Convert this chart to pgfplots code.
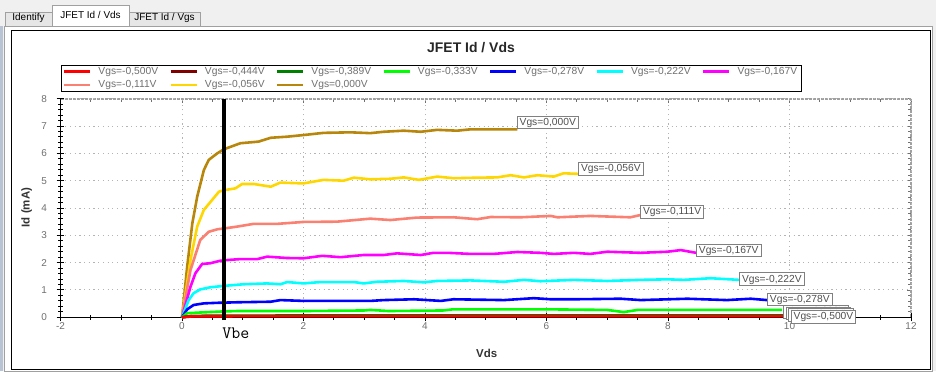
\documentclass[border=0pt]{standalone}
\usepackage{pgfplots}
\pgfplotsset{compat=1.18}
\usepackage{fontspec}
\setmainfont{Liberation Sans}
\definecolor{bgc}{HTML}{F0F0F0}
\definecolor{panelc}{HTML}{A0A0A0}
\definecolor{tabc}{HTML}{E6E6E6}
\definecolor{winc}{HTML}{B8C4D4}
\definecolor{tickc}{HTML}{707070}
\definecolor{gridc}{HTML}{B4B4B4}
\definecolor{labc}{HTML}{505050}
\definecolor{c500}{HTML}{FF0000}
\definecolor{c444}{HTML}{800000}
\definecolor{c389}{HTML}{008000}
\definecolor{c333}{HTML}{00FF00}
\definecolor{c278}{HTML}{0000FF}
\definecolor{c222}{HTML}{00FFFF}
\definecolor{c167}{HTML}{FF00FF}
\definecolor{c111}{HTML}{FA8072}
\definecolor{c056}{HTML}{FFD700}
\definecolor{c000}{HTML}{B8860B}
\begin{document}
\begin{tikzpicture}[x=1bp,y=1bp]
\useasboundingbox (0,0) rectangle (936,371);
\fill[bgc] (0,0) rectangle (936,371);
\fill[winc] (0,0) rectangle (3,345);
% panel
\draw[panelc, fill=white] (4.5,0) rectangle (932.5,345);
% tabs
\draw[panelc, fill=tabc] (5,345) rectangle (52,359);
\draw[panelc, fill=tabc] (129,345) rectangle (200,359);
\fill[white] (52,344.5) rectangle (129,366);
\draw[panelc] (52,345) -- (52,366) -- (129,366) -- (129,345);
\node[font=\fontsize{10}{12}\selectfont] at (28.5,353.5) {Identify};
\node[font=\fontsize{10}{12}\selectfont] at (164.5,353.5) {JFET Id / Vgs};
\node[font=\fontsize{10}{12}\selectfont] at (90.5,356) {JFET Id / Vds};
% inner chart frame
\draw[black, fill=white, line width=1bp] (11.5,2) rectangle (930,340);
% title and labels
\node[font=\bfseries\fontsize{14}{16}\selectfont, text=black!85] at (471,323) {JFET Id / Vds};
\node[font=\bfseries\fontsize{11.5}{13}\selectfont, text=black!80, rotate=90] at (26.7,163.5) {Id (mA)};
\node[font=\bfseries\fontsize{11.5}{13}\selectfont, text=black!80] at (486.7,18) {Vds};
\node[font=\ttfamily\fontsize{17.5}{19}\selectfont, anchor=west, inner sep=0pt] at (222.2,38) {Vbe};
% secondary axis: top and right lines
\begin{axis}[
  at={(60.5bp,53.7bp)}, anchor=south west,
  scale only axis, width=850.5bp, height=218.6bp,
  xmin=-2, xmax=12, ymin=0, ymax=8,
  axis x line*=top, axis y line*=right,
  xtick={-2,0,2,4,6,8,10,12}, ytick={0,1,2,3,4,5,6,7,8},
  xticklabels={}, yticklabels={},
  minor x tick num=3, minor y tick num=4,
  tick align=inside, major tick length=4bp, minor tick length=3bp,
  axis line style={-, color=panelc, line width=2bp, dash pattern=on 3bp off 1bp},
  every tick/.style={color=tickc, line width=0.8bp},
]
\end{axis}
\begin{axis}[
  at={(60.5bp,53.7bp)}, anchor=south west,
  scale only axis, width=850.5bp, height=218.6bp,
  xmin=-2, xmax=12, ymin=0, ymax=8,
  clip=false,
  axis x line*=bottom, axis y line*=left,
  axis line style={-, black, line width=1.2bp},
  xtick={-2,0,2,4,6,8,10,12}, ytick={0,1,2,3,4,5,6,7,8},
  xticklabels={-2,0,2,4,6,8,10,12}, yticklabels={0,1,2,3,4,5,6,7,8},
  minor x tick num=3, minor y tick num=4,
  tick align=center, major tick length=8bp, minor tick length=5bp,
  every tick/.style={black, line width=1bp},
  tick label style={font=\fontsize{10}{12}\selectfont, text=tickc},
  xticklabel style={yshift=2bp},
  yticklabel style={xshift=-6bp},
  grid=major,
  major grid style={color=gridc, line width=1bp, dash pattern=on 1.2bp off 3.5bp},
  no markers,
  every axis plot/.append style={line width=2.6bp, line join=round},
  legend image code/.code={\draw[#1, line width=2.6bp] (0bp,0bp) -- (26bp,0bp);},
  reverse legend,
  legend columns=7,
  legend cell align=left,
  legend style={at={(axis description cs:0,1)}, anchor=south west, yshift=7bp,
    draw=black, line width=0.8bp, fill=white,
    font=\fontsize{10.3}{12}\selectfont, text=tickc,
    inner xsep=2bp, inner ysep=0bp, row sep=1bp,
    /tikz/every odd column/.append style={column sep=5bp},
    /tikz/every even column/.append style={column sep=9.3bp}},
]
\addplot[c000] coordinates {(0,0) (0.085,1.85) (0.17,3.44) (0.25,4.41) (0.36,5.39) (0.44,5.76) (0.58,6.0) (0.69,6.15) (0.96,6.37) (1.26,6.43) (1.46,6.57) (1.73,6.61) (2.0,6.67) (2.33,6.75) (2.77,6.77) (3.10,6.74) (3.32,6.79) (3.65,6.83) (3.93,6.79) (4.2,6.86) (4.53,6.83) (4.75,6.88) (5.52,6.88)};
\addlegendentry{{Vgs=0,000V}}
\addplot[c056] coordinates {(0,0) (0.14,2.1) (0.25,3.32) (0.36,3.93) (0.52,4.36) (0.61,4.6) (0.72,4.66) (0.88,4.72) (0.99,4.88) (1.18,4.88) (1.46,4.78) (1.62,4.93) (2.0,4.9) (2.33,5.03) (2.66,5.0) (2.83,5.11) (3.1,5.05) (3.43,5.07) (3.65,5.12) (3.9,5.03) (4.2,5.15) (4.47,5.09) (4.86,5.11) (5.19,5.12) (5.41,5.2) (5.63,5.12) (5.85,5.2) (6.12,5.15) (6.28,5.27) (6.52,5.25)};
\addlegendentry{{Vgs=-0,056V}}
\addplot[c111] coordinates {(0,0) (0.14,1.73) (0.30,2.83) (0.44,3.13) (0.58,3.22) (0.72,3.26) (0.91,3.32) (1.18,3.42) (1.57,3.42) (2.0,3.49) (2.55,3.5) (3.10,3.61) (3.43,3.56) (3.87,3.65) (4.47,3.66) (4.86,3.59) (5.08,3.67) (5.57,3.66) (6.07,3.71) (6.18,3.66) (6.72,3.71) (7.38,3.66) (7.54,3.74)};
\addlegendentry{{Vgs=-0,111V}}
\addplot[c167] coordinates {(0,0) (0.14,1.12) (0.22,1.61) (0.33,1.95) (0.47,1.98) (0.63,2.07) (0.77,2.10) (0.96,2.13) (1.24,2.13) (1.40,2.22) (1.73,2.17) (2.0,2.16) (2.31,2.25) (2.61,2.2) (2.99,2.28) (3.32,2.28) (3.54,2.34) (3.93,2.28) (4.14,2.36) (4.37,2.36) (4.75,2.32) (5.13,2.32) (5.52,2.39) (5.9,2.36) (6.12,2.32) (6.45,2.36) (6.72,2.32) (7.0,2.40) (7.55,2.36) (7.99,2.40) (8.21,2.46) (8.46,2.36)};
\addlegendentry{{Vgs=-0,167V}}
\addplot[c222] coordinates {(0,0) (0.11,0.63) (0.19,0.88) (0.30,1.02) (0.47,1.10) (0.69,1.15) (1.02,1.21) (1.40,1.24) (1.62,1.21) (1.73,1.29) (2.0,1.24) (2.28,1.29) (2.83,1.29) (2.99,1.24) (3.21,1.30) (3.65,1.33) (3.98,1.28) (4.2,1.33) (4.75,1.35) (5.3,1.30) (5.63,1.37) (5.9,1.32) (6.45,1.37) (7.0,1.33) (7.55,1.37) (7.99,1.39) (8.26,1.37) (8.70,1.43) (9.17,1.37)};
\addlegendentry{{Vgs=-0,222V}}
\addplot[c278] coordinates {(0,0) (0.085,0.29) (0.19,0.45) (0.36,0.51) (0.58,0.53) (0.91,0.55) (1.46,0.57) (1.62,0.63) (2.0,0.60) (2.55,0.60) (3.10,0.60) (3.32,0.63) (3.82,0.66) (4.26,0.60) (4.47,0.66) (5.30,0.63) (5.79,0.70) (6.07,0.66) (6.45,0.66) (7.22,0.68) (7.55,0.63) (8.32,0.68) (8.97,0.63) (9.36,0.68) (9.63,0.63)};
\addlegendentry{{Vgs=-0,278V}}
\addplot[c333] coordinates {(0,0) (0.085,0.15) (0.25,0.17) (0.63,0.21) (0.91,0.23) (2.0,0.23) (3.0,0.25) (3.10,0.27) (3.4,0.23) (4.3,0.25) (4.45,0.29) (6.07,0.29) (7.0,0.27) (7.27,0.19) (7.5,0.27) (9.88,0.27)};
\addlegendentry{{Vgs=-0,333V}}
\addplot[c389] coordinates {(0,0) (0.15,0.05) (0.5,0.06) (3,0.07) (6,0.07) (9.93,0.07)};
\addlegendentry{{Vgs=-0,389V}}
\addplot[c444] coordinates {(0,0) (0.15,0.03) (0.5,0.04) (5,0.045) (9.97,0.045)};
\addlegendentry{{Vgs=-0,444V}}
\addplot[c500] coordinates {(0,0) (0.1,0.03) (0.5,0.04) (5,0.045) (9.99,0.045)};
\addlegendentry{{Vgs=-0,500V}}
% Vbe marker line
\addplot[black, line width=4bp, line cap=butt, forget plot] coordinates {(0.69,-0.1) (0.69,8)};
% end-of-curve labels
\tikzset{vlab/.style={anchor=west, draw=gray, fill=white, line width=0.9bp, text=labc,
  font=\fontsize{10.3}{12}\selectfont, inner xsep=2.5bp, inner ysep=1.5bp,
  text height=7.6bp, text depth=2.2bp}}
\node[vlab] at (axis cs:5.51,7.13) {Vgs=0,000V};
\node[vlab] at (axis cs:6.52,5.43) {Vgs=-0,056V};
\node[vlab] at (axis cs:7.54,3.85) {Vgs=-0,111V};
\node[vlab] at (axis cs:8.46,2.45) {Vgs=-0,167V};
\node[vlab] at (axis cs:9.17,1.39) {Vgs=-0,222V};
\node[vlab] at (axis cs:9.63,0.65) {Vgs=-0,278V};
\node[vlab] at (axis cs:9.90,0.20) {Vgs=-0,333V};
\node[vlab] at (axis cs:9.94,0.14) {Vgs=-0,389V};
\node[vlab] at (axis cs:9.98,0.08) {Vgs=-0,444V};
\node[vlab] at (axis cs:10.02,0.02) {Vgs=-0,500V};
\end{axis}
\end{tikzpicture}
\end{document}
